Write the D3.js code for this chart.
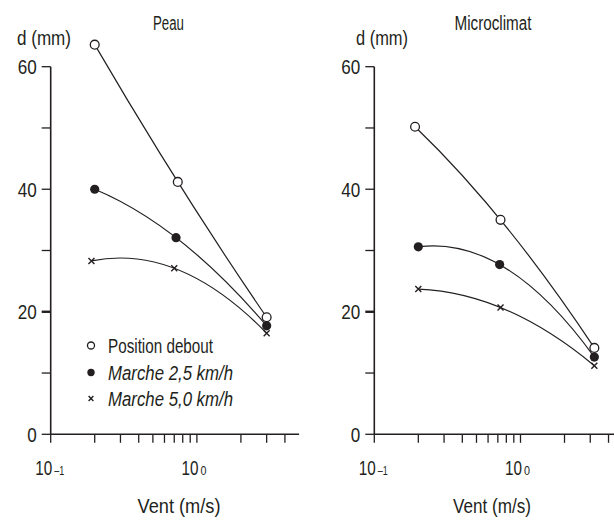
<!DOCTYPE html>
<html><head><meta charset="utf-8">
<script src="https://cdn.jsdelivr.net/npm/d3@7"></script>
<style>
html,body{margin:0;padding:0;background:#fff;}
svg{display:block;}
text{font-family:"Liberation Sans Narrow","Arial Narrow","Liberation Sans",sans-serif;fill:#231f20;}
</style></head>
<body>
<svg id="chart" width="614" height="520"></svg>
<script>
// ---- data ----
const panelTitles = ["Peau", "Microclimat"];
const seriesNames = ["Position debout", "Marche 2,5 km/h", "Marche 5,0 km/h"];
const seriesMarkers = ["open", "filled", "cross"];
// wind speed (m/s), per panel, per series
const peauWind = [[0.20, 0.74, 3.0], [0.20, 0.72, 3.0], [0.19, 0.70, 3.0]];
const peauD = [[63.6, 41.2, 19.1], [40.0, 32.1, 17.7], [28.3, 27.1, 16.5]];
const microWind = [[0.19, 0.73, 3.2], [0.20, 0.72, 3.2], [0.20, 0.73, 3.2]];
const microD = [[50.2, 35.0, 14.1], [30.6, 27.7, 12.6], [23.7, 20.7, 11.2]];
const yTicks = [0, 10, 20, 30, 40, 50, 60];
const yTickLabels = [0, 20, 40, 60];
const xTicks = [0.1, 0.2, 0.3, 0.4, 0.5, 0.6, 0.7, 0.8, 0.9, 1, 2, 3, 4];
const xTickLabels = [{v: 0.1, base: "10", exp: "–1"}, {v: 1, base: "10", exp: "0"}];
const yLabel = "d (mm)";
const xLabel = "Vent  (m/s)";

const svg = d3.select("#chart");
const ink = "#231f20";

// squeeze text to the condensed width of the original typeface
function fit(sel, w) {
  return sel.attr("textLength", w).attr("lengthAdjust", "spacingAndGlyphs");
}
// condensed text through a horizontal scale transform (keeps bounding boxes honest)
function squeezed(g, x, yb, size, str, w) {
  const t = g.append("text").attr("font-size", size).text(str);
  const nw = t.node().getComputedTextLength() || w;
  t.attr("transform", `translate(${x},${yb}) scale(${w / nw},1)`);
  return t;
}

// a smooth quadratic (parabolic) curve through three points, as a d3 curve factory
function curveParabola(context) {
  let pts;
  return {
    areaStart() {}, areaEnd() {},
    lineStart() { pts = []; },
    point(x, y) { pts.push([+x, +y]); },
    lineEnd() {
      if (pts.length !== 3) {
        pts.forEach((p, i) => i ? context.lineTo(p[0], p[1]) : context.moveTo(p[0], p[1]));
        return;
      }
      const [[x0, y0], [x1, y1], [x2, y2]] = pts;
      const f01 = (y1 - y0) / (x1 - x0), f12 = (y2 - y1) / (x2 - x1);
      const f012 = (f12 - f01) / (x2 - x0);
      const d0 = f01 + f012 * (x0 - x1);
      context.moveTo(x0, y0);
      context.quadraticCurveTo((x0 + x2) / 2, y0 + d0 * (x2 - x0) / 2, x2, y2);
    }
  };
}

const panels = [
  {title: panelTitles[0], wind: peauWind, d: peauD, x0: 50.7, titleX: 168.5, titleW: 31,
   yLabX: 17, yLabW: 54, xLabX: 179, xLabW: 83, legend: true},
  {title: panelTitles[1], wind: microWind, d: microD, x0: 374.3, titleX: 493, titleW: 77,
   yLabX: 356, yLabW: 52, xLabX: 492, xLabW: 78, legend: false}
];

const y = d3.scaleLinear().domain([0, 60]).range([434.3, 66.7]);

panels.forEach(p => {
  const decade = 146.2;
  const x = d3.scaleLog().domain([0.1, 5]).range([p.x0, p.x0 + Math.log10(50) * decade]);
  const g = svg.append("g");

  // y axis
  g.append("line").attr("x1", p.x0).attr("x2", p.x0).attr("y1", y(60)).attr("y2", y(0))
    .attr("stroke", ink).attr("stroke-width", 1.6);
  g.selectAll(".yt").data(yTicks).enter().append("line")
    .attr("x1", p.x0 - 9).attr("x2", p.x0).attr("y1", d => y(d)).attr("y2", d => y(d))
    .attr("stroke", ink).attr("stroke-width", d => d === 20 ? 2.4 : 1.3);
  g.selectAll(".yl").data(yTickLabels).enter().append("text")
    .attr("x", p.x0 - 14).attr("y", d => y(d) + 7.5).attr("text-anchor", "end")
    .attr("font-size", 21).text(d => d)
    .attr("textLength", d => String(d).length * 9.5).attr("lengthAdjust", "spacingAndGlyphs");

  // x axis
  g.append("line").attr("x1", x(0.1)).attr("x2", x(5)).attr("y1", y(0)).attr("y2", y(0))
    .attr("stroke", ink).attr("stroke-width", 1.6);
  g.selectAll(".xt").data(xTicks).enter().append("line")
    .attr("x1", d => x(d)).attr("x2", d => x(d)).attr("y1", y(0)).attr("y2", y(0) + 8.5)
    .attr("stroke", ink).attr("stroke-width", 1.3);
  xTickLabels.forEach(t => {
    const bx = x(t.v) - 15.5;
    squeezed(g, bx, 475, 21, t.base, 17);
    squeezed(g, bx + 19, 475, 12, t.exp, t.exp.length > 1 ? 10 : 6);
  });

  // labels
  fit(g.append("text").attr("x", p.titleX).attr("y", 30).attr("text-anchor", "middle")
    .attr("font-size", 20).text(p.title), p.titleW);
  fit(g.append("text").attr("x", p.yLabX).attr("y", 45).attr("font-size", 20).text(yLabel), p.yLabW);
  fit(g.append("text").attr("x", p.xLabX).attr("y", 513)
    .attr("text-anchor", "middle").attr("font-size", 20).text(xLabel), p.xLabW);

  // curves
  const line = d3.line().x(d => x(d[0])).y(d => y(d[1])).curve(curveParabola);
  p.d.forEach((vals, si) => {
    const pts = vals.map((v, i) => [p.wind[si][i], v]);
    g.append("path").attr("d", line(pts)).attr("fill", "none").attr("stroke", ink).attr("stroke-width", 1.2);
  });
  // markers
  p.d.forEach((vals, si) => {
    const pts = vals.map((v, i) => [p.wind[si][i], v]);
    drawMarkers(g, pts.map(d => [x(d[0]), y(d[1])]), seriesMarkers[si], 1);
  });

  // legend
  if (p.legend) {
    const ly = [345.5, 372.5, 398.5];
    const lw = [105, 125, 125];
    seriesNames.forEach((name, i) => {
      drawMarkers(g, [[91, ly[i]]], seriesMarkers[i], 0.8);
      fit(g.append("text").attr("x", 108).attr("y", ly[i] + 7).attr("font-size", 20)
        .attr("font-style", i === 0 ? "normal" : "italic").text(name), lw[i]);
    });
  }
});

function drawMarkers(g, pts, type, s) {
  pts.forEach(([cx, cy]) => {
    if (type === "open") {
      g.append("circle").attr("cx", cx).attr("cy", cy).attr("r", 4.4 * s)
        .attr("fill", "#fff").attr("stroke", ink).attr("stroke-width", 1.3);
    } else if (type === "filled") {
      g.append("circle").attr("cx", cx).attr("cy", cy).attr("r", 4.6 * s).attr("fill", ink);
    } else {
      const r = 3 * s;
      g.append("path").attr("d", `M${cx - r},${cy - r}L${cx + r},${cy + r}M${cx - r},${cy + r}L${cx + r},${cy - r}`)
        .attr("stroke", ink).attr("stroke-width", 1.4);
    }
  });
}
</script>
</body></html>
